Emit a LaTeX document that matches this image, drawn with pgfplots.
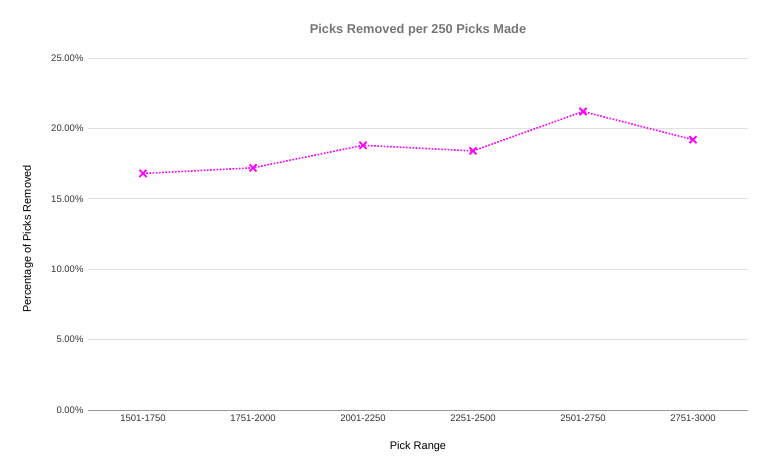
\documentclass[border=0pt]{standalone}
\usepackage{pgfplots}
\pgfplotsset{compat=1.18}
\usepackage{fontspec}
\setmainfont{Liberation Sans}
\definecolor{gridc}{HTML}{E0E0E0}
\definecolor{titlec}{HTML}{757575}
\definecolor{linec}{HTML}{FF00FF}
\definecolor{tickc}{HTML}{333333}
\begin{document}
\begin{tikzpicture}[x=1pt,y=1pt]
\begin{axis}[
  scale only axis,
  width=660pt, height=352pt,
  xmin=-0.5, xmax=5.5,
  ymin=0, ymax=25,
  xtick={0,1,2,3,4,5},
  xticklabels={1501-1750,1751-2000,2001-2250,2251-2500,2501-2750,2751-3000},
  ytick={0,5,10,15,20,25},
  yticklabels={0.00\%,5.00\%,10.00\%,15.00\%,20.00\%,25.00\%},
  axis line style={draw=none},
  tick style={draw=none},
  ymajorgrids,
  grid style={gridc, line width=0.8pt},
  ticklabel style={font=\fontsize{9.5}{11}\selectfont, text=tickc},
  xticklabel style={yshift=-1pt},
  yticklabel style={xshift=-1pt},
  clip=false,
]
\addplot[linec, dash pattern=on 1.6pt off 1.6pt, line width=1.6pt, mark=x, mark size=5pt,
  mark options={solid, line width=1.8pt}]
  coordinates {(0,16.8) (1,17.2) (2,18.8) (3,18.4) (4,21.2) (5,19.2)};
\draw[gray!80, line width=0.9pt] (rel axis cs:0,0) -- (rel axis cs:1,0);
\node[font=\bfseries\fontsize{12.8}{15}\selectfont, text=titlec] at (rel axis cs:0.5,1) [yshift=28pt] {Picks Removed per 250 Picks Made};
\path (rel axis cs:0,0.5) ++(-60pt,-5pt) node[font=\fontsize{11}{13}\selectfont, rotate=90] {Percentage of Picks Removed};
\node[font=\fontsize{11}{13}\selectfont] at (rel axis cs:0.5,0) [yshift=-37pt] {Pick Range};
\end{axis}
\path (-88,-63) rectangle (679,410);
\end{tikzpicture}
\end{document}
